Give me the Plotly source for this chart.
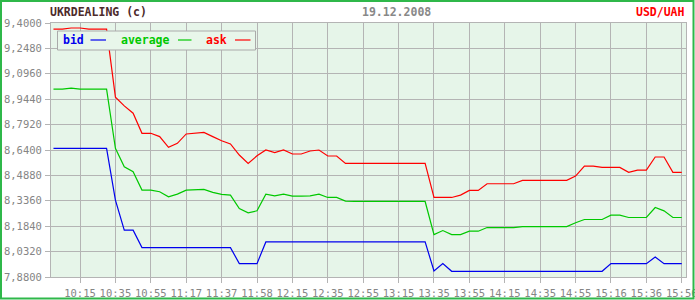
import plotly.graph_objects as go

# sample number (about one sample every 5 minutes)
samples = list(range(72))

bid = [8.650, 8.650, 8.650, 8.650, 8.650, 8.650, 8.650,
       8.340, 8.160, 8.160, 8.056,
       8.056, 8.056, 8.056, 8.056, 8.056, 8.056, 8.056, 8.056, 8.056, 8.056,
       7.960, 7.960, 7.960,
       8.090, 8.090, 8.090, 8.090, 8.090, 8.090, 8.090, 8.090, 8.090, 8.090,
       8.090, 8.090, 8.090, 8.090, 8.090, 8.090, 8.090, 8.090, 8.090,
       7.916, 7.960,
       7.914, 7.914, 7.914, 7.914, 7.914, 7.914, 7.914, 7.914, 7.914, 7.914,
       7.914, 7.914, 7.914, 7.914, 7.914, 7.914, 7.914, 7.914,
       7.960, 7.960, 7.960, 7.960, 7.960,
       8.000, 7.960, 7.960, 7.960]

average = [9.004, 9.004, 9.010, 9.004, 9.004, 9.004, 9.004,
           8.650, 8.540, 8.510, 8.400, 8.400, 8.390, 8.360, 8.376, 8.400,
           8.400, 8.404, 8.386, 8.374, 8.370, 8.290, 8.264, 8.276, 8.376,
           8.366, 8.376, 8.364, 8.364, 8.366, 8.376, 8.356, 8.356, 8.334,
           8.332, 8.332, 8.332, 8.332, 8.332, 8.332, 8.332, 8.332, 8.332,
           8.134, 8.158, 8.134, 8.134, 8.154, 8.154, 8.176, 8.176, 8.176,
           8.176, 8.182, 8.182, 8.182, 8.182, 8.182, 8.182, 8.205, 8.224,
           8.224, 8.224, 8.250, 8.250, 8.236, 8.236, 8.236, 8.296, 8.276,
           8.236, 8.236]

ask = [9.363, 9.363, 9.370, 9.370, 9.363, 9.363, 9.363,
       8.956, 8.904, 8.860, 8.740, 8.740, 8.720, 8.656, 8.680, 8.736,
       8.740, 8.745, 8.720, 8.695, 8.676, 8.610, 8.560, 8.605, 8.640,
       8.624, 8.640, 8.616, 8.616, 8.634, 8.640, 8.604, 8.604, 8.560,
       8.560, 8.560, 8.560, 8.560, 8.560, 8.560, 8.560, 8.560, 8.560,
       8.356, 8.356, 8.356, 8.370, 8.398, 8.398, 8.438, 8.438, 8.438,
       8.438, 8.458, 8.458, 8.458, 8.458, 8.458, 8.458, 8.484, 8.544,
       8.544, 8.536, 8.536, 8.536, 8.506, 8.520, 8.520, 8.598, 8.598,
       8.506, 8.506]

x_tick_samples = [3, 7, 11, 15, 19, 23, 27, 31, 35, 39, 43, 47, 51, 55, 59, 63, 67, 71]
x_tick_labels = ["10:15", "10:35", "10:55", "11:17", "11:37", "11:58", "12:15",
                 "12:35", "12:55", "13:15", "13:35", "13:55", "14:15", "14:35",
                 "14:55", "15:16", "15:36", "15:56"]
y_ticks = [7.880, 8.032, 8.184, 8.336, 8.488, 8.640, 8.792, 8.944, 9.096, 9.248, 9.400]

series_names = ["bid", "average", "ask"]
series_colors = ["#0000ee", "#00c800", "#ff0000"]

W, H = 695, 300
ML, MR, MT, MB = 51, 9, 23, 23
PW, PH = W - ML - MR, H - MT - MB


def px(x):
    return (x - ML) / PW


def py(y):
    return (H - MB - y) / PH


MONO = "DejaVu Sans Mono"
GRID = "#b4b4b4"
LABEL = "#858585"

fig = go.Figure()
for name, vals, col in zip(series_names, [bid, average, ask], series_colors):
    fig.add_trace(go.Scatter(x=samples, y=vals, mode="lines", name=name,
                             line=dict(color=col, width=1.2), showlegend=False))

fig.update_layout(
    width=W, height=H,
    margin=dict(l=ML, r=MR, t=MT, b=MB, pad=0, autoexpand=False),
    paper_bgcolor="white",
    plot_bgcolor="#e6f5e9",
    separators=",.",
    font=dict(family=MONO, size=10, color=LABEL),
)
fig.update_xaxes(
    range=[-0.28, 71.48], tickmode="array", tickvals=x_tick_samples,
    ticktext=x_tick_labels, showgrid=True, gridcolor=GRID, gridwidth=1,
    showline=True, linecolor=GRID, linewidth=1, mirror=True,
    ticks="outside", ticklen=5, tickcolor=GRID, tickwidth=1,
    ticklabelstandoff=1, ticklabeloverflow="allow", automargin=False,
    tickfont=dict(family=MONO, size=10.5, color=LABEL), zeroline=False,
)
fig.update_yaxes(
    range=[7.88, 9.40], tickmode="array", tickvals=y_ticks, tickformat=".4f",
    showgrid=True, gridcolor=GRID, gridwidth=1,
    showline=True, linecolor=GRID, linewidth=1, mirror=True,
    ticks="outside", ticklen=5, tickcolor=GRID, tickwidth=1,
    ticklabelstandoff=1, ticklabeloverflow="allow", automargin=False,
    tickfont=dict(family=MONO, size=10.5, color=LABEL), zeroline=False,
)

shapes = []
annotations = []
# outer green frame
shapes.append(dict(type="rect", xref="paper", yref="paper",
                   x0=px(1), x1=px(693.5), y0=py(1), y1=py(298.5),
                   line=dict(color="#2fb84a", width=2), fillcolor="rgba(0,0,0,0)",
                   layer="above"))
# header texts
annotations.append(dict(text="UKRDEALING (c)", xref="paper", yref="paper",
                        x=px(48), y=py(12), xanchor="left", yanchor="middle",
                        showarrow=False,
                        font=dict(family=MONO, size=11.5, color="#4d2a2a", weight="bold")))
annotations.append(dict(text="19.12.2008", xref="paper", yref="paper",
                        x=px(396.5), y=py(12), xanchor="center", yanchor="middle",
                        showarrow=False,
                        font=dict(family=MONO, size=11.5, color="#888888", weight="bold")))
annotations.append(dict(text="USD/UAH", xref="paper", yref="paper",
                        x=px(687), y=py(12), xanchor="right", yanchor="middle",
                        showarrow=False,
                        font=dict(family=MONO, size=11.5, color="#ff0000", weight="bold")))
# legend box
shapes.append(dict(type="rect", xref="paper", yref="paper",
                   x0=px(57.5), x1=px(255.5), y0=py(31), y1=py(50),
                   line=dict(color="#aaaaaa", width=1), fillcolor="#e8f6ea",
                   layer="above"))
legend_text_x = [61, 119, 204]
legend_line_x = [(90.5, 106), (178, 191.5), (235, 250.5)]
for name, col, tx, (lx0, lx1) in zip(series_names, series_colors, legend_text_x, legend_line_x):
    annotations.append(dict(text=name, xref="paper", yref="paper",
                            x=px(tx), y=py(39.5), xanchor="left", yanchor="middle",
                            showarrow=False,
                            font=dict(family=MONO, size=11.5, color=col, weight="bold")))
    shapes.append(dict(type="line", xref="paper", yref="paper",
                       x0=px(lx0), x1=px(lx1), y0=py(40), y1=py(40),
                       line=dict(color=col, width=1.2), layer="above"))

fig.update_layout(shapes=shapes, annotations=annotations)

fig.write_html("out.html", config={"displayModeBar": False})
